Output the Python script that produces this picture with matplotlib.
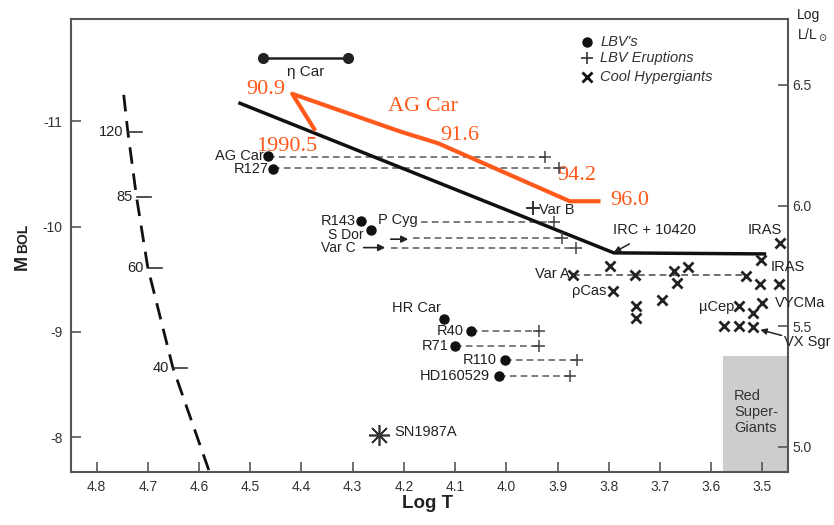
import numpy as np
import matplotlib.pyplot as plt

plt.rcParams['font.family'] = ['Liberation Sans', 'DejaVu Sans']
INK = "#222222"
ORANGE = "#ff5a1c"

# --- data (log T, M_bol) ---
# LBVs (filled dots)
lbv_names = ["AG Car", "R127", "R143", "S Dor", "HR Car", "R40", "R71", "R110", "HD160529"]
lbv_logt = [4.465, 4.455, 4.284, 4.265, 4.122, 4.069, 4.100, 4.002, 4.014]
lbv_mbol = [-10.67, -10.55, -10.05, -9.97, -9.12, -9.01, -8.87, -8.73, -8.58]

# eruption counterparts (+) joined by dashed lines
erup_from_logt = [4.465, 4.455, 4.167, 4.182, 4.225, 4.069, 4.100, 4.002, 4.014]
erup_logt = [3.925, 3.898, 3.906, 3.892, 3.863, 3.937, 3.937, 3.861, 3.875]
erup_mbol = [-10.66, -10.56, -10.04, -9.89, -9.80, -9.01, -8.87, -8.73, -8.58]

varb_logt, varb_mbol = 3.947, -10.18

# eta Car range
etacar_logt = [4.475, 4.310]
etacar_mbol = [-11.60, -11.60]

# SN1987A
sn_logt, sn_mbol = 4.249, -8.02

# cool hypergiants (x)
chg_logt = [3.798, 3.869, 3.749, 3.673, 3.667, 3.645, 3.531, 3.502, 3.504, 3.467, 3.465,
            3.792, 3.747, 3.747, 3.696, 3.545, 3.500, 3.518, 3.575, 3.545, 3.518]
chg_mbol = [-9.63, -9.54, -9.54, -9.58, -9.46, -9.62, -9.53, -9.68, -9.45, -9.45, -9.84,
            -9.39, -9.25, -9.13, -9.30, -9.25, -9.27, -9.18, -9.06, -9.06, -9.05]
vara_row_logt = [3.869, 3.531]
vara_row_mbol = [-9.54, -9.54]

# Humphreys-Davidson limit
hd_logt = [4.520, 3.790, 3.496]
hd_mbol = [-11.17, -9.75, -9.74]

# mass track and mass marks
track_logt = [4.747, 4.739, 4.722, 4.700, 4.651, 4.576]
track_mbol = [-11.25, -10.90, -10.28, -9.61, -8.66, -7.62]
mass_labels = ["120", "85", "60", "40"]
mass_logt = [4.739, 4.722, 4.700, 4.651]
mass_mbol = [-10.90, -10.28, -9.61, -8.66]

# AG Car excursion (orange)
agcar_logt = [4.373, 4.418, 4.206, 4.133, 3.876, 3.816]
agcar_mbol = [-10.91, -11.26, -10.90, -10.79, -10.24, -10.24]
agcar_epochs = ["90.9", "1990.5", "91.6", "94.2", "96.0"]
agcar_ep_logt = [4.469, 4.429, 4.090, 3.863, 3.759]
agcar_ep_mbol = [-11.30, -10.76, -10.86, -10.48, -10.25]

# Red supergiant region
rsg_logt = [3.576, 3.45]
rsg_mbol = [-8.77, -7.67]

fig = plt.figure(figsize=(8.34, 5.25), dpi=100)
ax = fig.add_axes([0.0851, 0.1010, 0.8597, 0.8628])
ax.set_xlim(4.85, 3.45)
ax.set_ylim(-7.67, -11.97)

ax.fill_between(rsg_logt, rsg_mbol[0], rsg_mbol[1], color="#cdcdcd", lw=0, zorder=0)
ax.text(3.555, -8.24, "Red\nSuper-\nGiants", fontsize=10.5, color="#333333",
        ha="left", va="center", linespacing=1.15)

# dashed joins
for x0, x1, y in zip(erup_from_logt, erup_logt, erup_mbol):
    ax.plot([x0, x1], [y, y], ls=(0, (4, 2.5)), color="#666666", lw=1.2, zorder=1)
ax.plot(vara_row_logt, vara_row_mbol, ls=(0, (4, 2.5)), color="#555555", lw=1.2, zorder=1)

ax.plot(etacar_logt, etacar_mbol, color=INK, lw=1.8, marker="o", ms=7)
ax.text(np.mean(etacar_logt), -11.47, "η Car", fontsize=11, color=INK, ha="center", va="center")

ax.plot(hd_logt, hd_mbol, color="#111111", lw=2.5, zorder=2)
ax.plot(track_logt, track_mbol, color="#111111", lw=2, ls=(0, (6, 3.5)), zorder=2)
for lab, x, y in zip(mass_labels, mass_logt, mass_mbol):
    ax.plot([x, x - 0.028], [y, y], color="#333333", lw=1.2)
    ax.annotate(lab, (x, y), xytext=(-3, 0), textcoords="offset points",
                fontsize=10.5, color=INK, ha="right", va="center")

ax.plot(lbv_logt, lbv_mbol, "o", color="#111111", ms=6.5, zorder=4)
ax.plot(erup_logt, erup_mbol, "+", color="#444444", ms=9, mew=1.1, zorder=4)
ax.plot([varb_logt], [varb_mbol], "+", color="#222222", ms=10, mew=1.3, zorder=4)
ax.plot(chg_logt, chg_mbol, "x", color="#222222", ms=6.5, mew=2, zorder=4)
ax.plot([sn_logt], [sn_mbol], marker=(8, 2, 0), color="#333333", ms=15, mew=1.2)

# labels for LBVs
lbv_offsets = [(-3, 0), (-3, 0), (-4, 0), (-5, -4), (-20, 8), (-5, 0), (-5, 0), (-6, 0), (-7, 0)]
lbv_sizes = [10.5, 10.5, 10.5, 10, 10.5, 10.5, 10.5, 10.5, 10.5]
for name, x, y, off, fs in zip(lbv_names, lbv_logt, lbv_mbol, lbv_offsets, lbv_sizes):
    ha = "center" if name == "HR Car" else "right"
    ax.annotate(name, (x, y), xytext=off, textcoords="offset points",
                fontsize=fs, color=INK, ha=ha, va="center")
ax.text(4.251, -10.06, "P Cyg", fontsize=10.5, color=INK, ha="left", va="center")
ax.text(4.294, -9.795, "Var C", fontsize=10, color=INK, ha="right", va="center")
ax.annotate("Var B", (varb_logt, varb_mbol), xytext=(4, -1.5), textcoords="offset points",
            fontsize=10.5, color=INK, ha="left", va="center")
ax.annotate("SN1987A", (sn_logt, sn_mbol), xytext=(11, 2), textcoords="offset points",
            fontsize=10.5, color=INK, ha="left", va="center")
arrow = dict(arrowstyle="-|>", color="#222222", lw=1.2, mutation_scale=10)
ax.annotate("", xy=(4.186, -9.88), xytext=(4.231, -9.88), arrowprops=arrow)
ax.annotate("", xy=(4.231, -9.80), xytext=(4.284, -9.80), arrowprops=arrow)

# cool hypergiant labels
ax.annotate("IRC + 10420", xy=(3.790, -9.755), xytext=(3.710, -9.965),
            fontsize=10.5, color=INK, ha="center", va="center",
            arrowprops=dict(arrowstyle="-|>", color="#222222", lw=1.1, mutation_scale=9,
                            shrinkA=6, shrinkB=0))
ax.text(3.496, -9.965, "IRAS", fontsize=10.5, color=INK, ha="center", va="center")
ax.text(3.484, -9.62, "IRAS", fontsize=10.5, color=INK, ha="left", va="center")
ax.text(3.475, -9.27, "VYCMa", fontsize=10.5, color=INK, ha="left", va="center")
ax.text(3.555, -9.24, "µCep", fontsize=10.5, color=INK, ha="right", va="center")
ax.text(3.804, -9.39, "ρCas", fontsize=10.5, color=INK, ha="right", va="center")
ax.text(3.876, -9.55, "Var A", fontsize=10.5, color=INK, ha="right", va="center")
ax.annotate("VX Sgr", xy=(3.504, -9.02), xytext=(3.457, -8.90),
            fontsize=10.5, color=INK, ha="left", va="center",
            arrowprops=dict(arrowstyle="-|>", color="#222222", lw=1.1, mutation_scale=9,
                            shrinkA=0, shrinkB=0))

# AG Car excursion
ax.plot(agcar_logt, agcar_mbol, color=ORANGE, lw=3, solid_capstyle="butt", zorder=5)
for lab, x, y in zip(agcar_epochs, agcar_ep_logt, agcar_ep_mbol):
    ax.text(x, y, lab, fontsize=16, color=ORANGE, family="Liberation Serif",
            ha="center", va="center")
ax.text(4.163, -11.14, "AG Car", fontsize=16, color=ORANGE, family="Liberation Serif",
        ha="center", va="center")

# legend drawn by hand
leg_y = [0.949, 0.914, 0.872]
ax.plot([0.7197], [leg_y[0]], "o", color="#111111", ms=6.5, transform=ax.transAxes)
ax.plot([0.7197], [leg_y[1]], "+", color="#333333", ms=9, mew=1.2, transform=ax.transAxes)
ax.plot([0.7197], [leg_y[2]], "x", color="#111111", ms=6.5, mew=2, transform=ax.transAxes)
for y, lab in zip(leg_y, ["LBV's", "LBV Eruptions", "Cool Hypergiants"]):
    ax.text(0.738, y, lab, transform=ax.transAxes, fontsize=10.5, style="italic",
            color="#333333", ha="left", va="center")

# axes styling
for s in ax.spines.values():
    s.set_color("#555555")
    s.set_linewidth(1.5)
ax.set_xticks([4.8, 4.7, 4.6, 4.5, 4.4, 4.3, 4.2, 4.1, 4.0, 3.9, 3.8, 3.7, 3.6, 3.5])
ax.set_xticklabels(["4.8", "4.7", "4.6", "4.5", "4.4", "4.3", "4.2", "4.1", "4.0",
                    "3.9", "3.8", "3.7", "3.6", "3.5"])
ax.set_yticks([-11, -10, -9, -8])
ax.set_yticklabels(["-11", "-10", "-9", "-8"])
ax.tick_params(direction="in", length=7, width=1.2, color="#555555",
               labelsize=10, labelcolor="#333333", pad=6)

ax2 = ax.twinx()
ax2.set_ylim(4.896, 6.773)
ax2.set_yticks([5.0, 5.5, 6.0, 6.5])
ax2.set_yticklabels(["5.0", "5.5", "6.0", "6.5"])
ax2.tick_params(direction="in", length=7, width=1.2, color="#555555",
                labelsize=10, labelcolor="#333333", pad=3)
for s in ax2.spines.values():
    s.set_visible(False)

fig.text(428 / 834, 1 - 503 / 525, "Log T", fontsize=13.5, fontweight="bold",
         color="#222222", ha="center", va="center")
fig.text(22 / 834, 1 - 262 / 525, "M", fontsize=13, fontweight="bold", rotation=90,
         color="#222222", ha="center", va="center")
fig.text(23 / 834, 1 - 238 / 525, "BOL", fontsize=10, fontweight="bold", rotation=90,
         color="#222222", ha="center", va="center")
fig.text(797 / 834, 1 - 15 / 525, "Log", fontsize=10, color="#222222", ha="left", va="center")
fig.text(797 / 834, 1 - 35 / 525, "L/L$_\\odot$", fontsize=10, color="#222222",
         ha="left", va="center")

fig.savefig("out.png", dpi=100)
